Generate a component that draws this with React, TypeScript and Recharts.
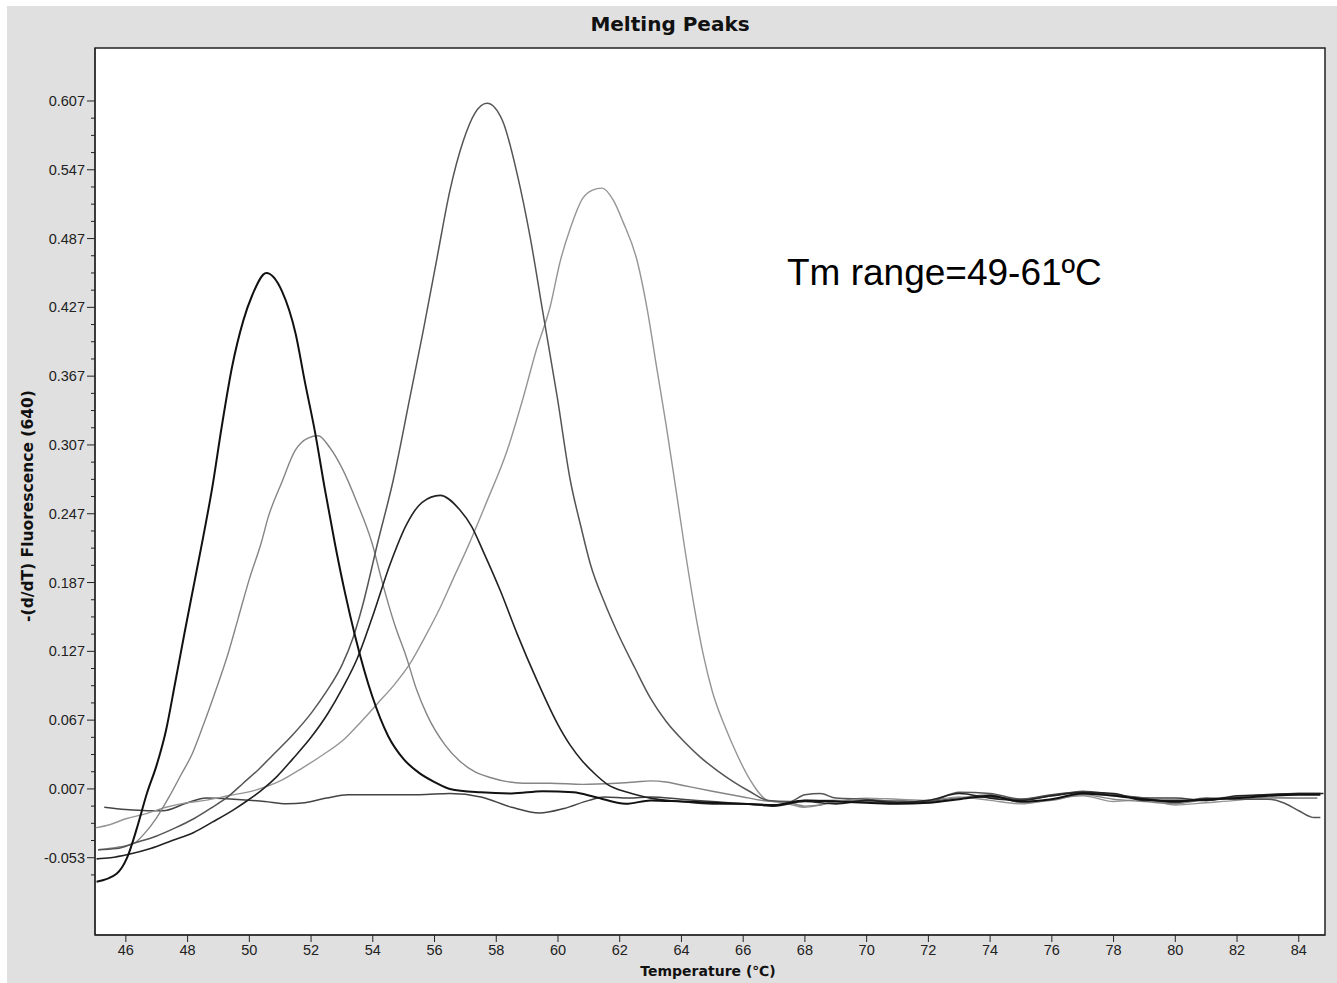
import { LineChart, Line, XAxis, YAxis, ReferenceArea } from 'recharts'

// temperature (°C), -(d/dT) fluorescence
const PEAK_50: [number, number][] = [
  [45.05, -0.074], [45.7, -0.067], [46.04, -0.053], [46.36, -0.027], [46.68, 0.003], [47.0, 0.028],
  [47.3, 0.058], [47.6, 0.1], [47.9, 0.143], [48.24, 0.19], [48.5, 0.226], [48.8, 0.27],
  [49.1, 0.322], [49.44, 0.375], [49.8, 0.415], [50.1, 0.438], [50.55, 0.457], [51.06, 0.441],
  [51.5, 0.404], [51.8, 0.362], [52.13, 0.318], [52.45, 0.268], [52.78, 0.22], [53.1, 0.178],
  [53.43, 0.14], [53.98, 0.088], [54.5, 0.053], [55.0, 0.033], [55.5, 0.021], [56.0, 0.013],
  [56.5, 0.007], [57.5, 0.004], [58.5, 0.003], [59.5, 0.005], [60.5, 0.004], [61.2, 0.0],
  [62.2, -0.006], [63, -0.003], [64, -0.004], [65, -0.005], [66, -0.006], [67, -0.007],
  [68, -0.003], [69, -0.004], [70, -0.005], [71, -0.006], [72, -0.005], [73, -0.002],
  [74, 0.001], [75, -0.004], [76, -0.002], [77, 0.003], [78, 0.001], [79, -0.002],
  [80, -0.004], [81, -0.002], [82, -0.001], [83, 0.001], [84, 0.002], [84.7, 0.002],
]

const PEAK_52: [number, number][] = [
  [45.1, -0.046], [45.7, -0.044], [46.23, -0.041], [46.6, -0.032], [47.0, -0.018], [47.4, 0.0],
  [47.8, 0.02], [48.14, 0.037], [48.5, 0.062], [48.9, 0.092], [49.3, 0.124], [49.64, 0.156],
  [50.0, 0.19], [50.4, 0.223], [50.6, 0.243], [51.06, 0.275], [51.48, 0.302], [51.9, 0.313],
  [52.23, 0.315], [52.6, 0.305], [53.0, 0.287], [53.5, 0.256], [53.98, 0.221], [54.3, 0.188],
  [54.7, 0.151], [55.1, 0.121], [55.4, 0.095], [55.75, 0.072], [56.35, 0.045], [56.83, 0.031],
  [57.3, 0.022], [57.8, 0.017], [58.87, 0.012], [59.75, 0.012], [60.8, 0.011], [61.9, 0.012],
  [62.5, 0.013], [63.0, 0.014], [63.5, 0.013], [64.06, 0.01], [65, 0.005], [66, 0.0],
  [66.6, -0.003], [67.5, -0.005], [68, -0.008], [68.5, -0.007], [69, -0.004], [70, -0.004],
  [71, -0.003], [72, -0.005], [73, -0.001], [74, 0.002], [75, -0.005], [76, -0.003],
  [77, 0.002], [78, -0.002], [79, -0.004], [80, -0.006], [81, -0.002], [82, 0.0],
  [83, -0.001], [84, -0.001], [84.6, -0.001],
]

const PEAK_56: [number, number][] = [
  [45.05, -0.054], [45.5, -0.053], [46.1, -0.05], [46.8, -0.045], [47.5, -0.038], [48.2, -0.031],
  [48.8, -0.022], [49.5, -0.011], [50.0, -0.002], [50.4, 0.006], [50.9, 0.018], [51.4, 0.033],
  [52.0, 0.052], [52.55, 0.073], [53.0, 0.094], [53.5, 0.121], [54.0, 0.158], [54.56, 0.203],
  [55.1, 0.238], [55.6, 0.257], [56.18, 0.263], [56.83, 0.25], [57.2, 0.236], [57.58, 0.214],
  [58.13, 0.18], [58.68, 0.142], [59.33, 0.101], [59.98, 0.064], [60.4, 0.045], [60.8, 0.031],
  [61.2, 0.02], [61.6, 0.011], [62.25, 0.004], [63, -0.001], [64, -0.004], [65, -0.006],
  [66, -0.006], [67, -0.008], [68, -0.004], [69, -0.006], [70, -0.003], [71, -0.005],
  [72, -0.003], [73, 0.003], [74, -0.001], [75, -0.003], [76, 0.001], [77, 0.004],
  [78, 0.003], [79, -0.003], [80, -0.003], [81, -0.003], [82, 0.001], [83, 0.002],
  [84, 0.003], [84.8, 0.003],
]

const PEAK_58: [number, number][] = [
  [45.1, -0.046], [45.7, -0.045], [46.3, -0.04], [47.0, -0.034], [47.6, -0.027], [48.2, -0.019],
  [48.8, -0.009], [49.3, 0.0], [49.8, 0.012], [50.3, 0.024], [50.74, 0.036], [51.4, 0.054],
  [52.03, 0.074], [52.5, 0.092], [53.0, 0.115], [53.35, 0.138], [53.65, 0.165], [54.17, 0.223],
  [54.66, 0.276], [55.2, 0.348], [55.63, 0.406], [56.08, 0.47], [56.5, 0.529], [56.93, 0.572],
  [57.3, 0.596], [57.7, 0.605], [58.2, 0.59], [58.68, 0.543], [59.1, 0.488], [59.52, 0.421],
  [59.98, 0.348], [60.4, 0.276], [60.75, 0.235], [61.05, 0.203], [61.5, 0.17], [61.9, 0.145],
  [62.5, 0.112], [63, 0.086], [63.5, 0.066], [64.06, 0.049], [64.6, 0.035], [65.16, 0.023],
  [65.7, 0.013], [66.2, 0.005], [66.8, -0.003], [67.5, -0.004], [68, 0.002], [68.5, 0.003],
  [69, -0.001], [70, -0.002], [71, -0.004], [72, -0.004], [73, 0.004], [74, 0.003],
  [75, -0.002], [76, 0.001], [77, 0.005], [78, 0.002], [79, -0.001], [80, -0.005],
  [81, -0.001], [82, -0.002], [83, -0.002], [83.5, -0.005], [84, -0.012], [84.5, -0.018],
  [84.7, -0.018],
]

const PEAK_61: [number, number][] = [
  [45.0, -0.027], [45.5, -0.024], [46.0, -0.019], [46.6, -0.015], [47.3, -0.009], [48.0, -0.005],
  [48.57, -0.003], [49.3, 0.001], [50.2, 0.006], [51.0, 0.014], [51.7, 0.025], [52.4, 0.037],
  [53.1, 0.051], [53.6, 0.065], [54.17, 0.082], [54.7, 0.098], [55.2, 0.116], [55.7, 0.14],
  [56.18, 0.165], [56.6, 0.19], [57.06, 0.217], [57.7, 0.258], [58.35, 0.302], [58.87, 0.348],
  [59.3, 0.39], [59.75, 0.428], [60.07, 0.467], [60.4, 0.496], [60.8, 0.522], [61.1, 0.529],
  [61.43, 0.531], [61.8, 0.52], [62.1, 0.502], [62.57, 0.467], [62.9, 0.424], [63.2, 0.374],
  [63.5, 0.325], [63.8, 0.272], [64.1, 0.218], [64.4, 0.168], [64.7, 0.125], [65.0, 0.092],
  [65.4, 0.062], [65.8, 0.037], [66.2, 0.016], [66.8, -0.003], [67.3, -0.005], [68, -0.009],
  [68.5, -0.007], [69, -0.004], [70, -0.001], [71, -0.002], [72, -0.003], [73, 0.0],
  [74, -0.003], [75, -0.006], [76, -0.002], [77, 0.001], [78, -0.004], [79, -0.002],
  [80, -0.007], [81, -0.005], [82, -0.003], [83, 0.0], [84, -0.001], [84.6, -0.001],
]

const BASELINE: [number, number][] = [
  [45.3, -0.009], [46.0, -0.011], [46.7, -0.012], [47.2, -0.012], [48.0, -0.005], [48.6, -0.001],
  [49.5, -0.002], [50.5, -0.004], [51.2, -0.006], [51.8, -0.005], [52.5, -0.001], [53.2, 0.002],
  [54.5, 0.002], [55.5, 0.002], [56.5, 0.003], [57.5, 0.0], [58.5, -0.009], [59.4, -0.014],
  [60.2, -0.01], [61.0, -0.003], [61.5, 0.0], [62.3, -0.001], [63.0, 0.0], [64, -0.002],
  [65, -0.004], [66, -0.006], [67, -0.007], [68, -0.003], [69, -0.003], [70, -0.004],
  [71, -0.005], [72, -0.004], [73, -0.001], [74, 0.0], [75, -0.002], [76, 0.002],
  [77, 0.004], [78, 0.002], [79, -0.001], [80, -0.001], [81, -0.003], [82, 0.0],
  [83, 0.002], [84, 0.003], [84.7, 0.003],
]

const X_TICKS = [46, 48, 50, 52, 54, 56, 58, 60, 62, 64, 66, 68, 70, 72, 74, 76, 78, 80, 82, 84]
const Y_MAJOR = [-0.053, 0.007, 0.067, 0.127, 0.187, 0.247, 0.307, 0.367, 0.427, 0.487, 0.547, 0.607]
const Y_MINOR = [
  -0.068, -0.038, -0.023, -0.008, 0.022, 0.037, 0.052, 0.082, 0.097, 0.112, 0.142, 0.157,
  0.172, 0.202, 0.217, 0.232, 0.262, 0.277, 0.292, 0.322, 0.337, 0.352, 0.382, 0.397,
  0.412, 0.442, 0.457, 0.472, 0.502, 0.517, 0.532, 0.562, 0.577, 0.592,
]

const X_DOMAIN: [number, number] = [45, 84.85]
const Y_DOMAIN: [number, number] = [-0.1204, 0.6532]

const SERIES = [
  { name: 'baseline', points: BASELINE, color: '#444', width: 1.5 },
  { name: 'peak61', points: PEAK_61, color: '#959595', width: 1.4 },
  { name: 'peak52', points: PEAK_52, color: '#858585', width: 1.4 },
  { name: 'peak58', points: PEAK_58, color: '#555', width: 1.5 },
  { name: 'peak56', points: PEAK_56, color: '#222', width: 1.6 },
  { name: 'peak50', points: PEAK_50, color: '#111', width: 2 },
]

const tickFont = '"Liberation Sans", Arial, sans-serif'
const boldFont = '"DejaVu Sans", Verdana, sans-serif'

function YTick({ x, y, payload }: { x?: number; y?: number; payload?: { value: number } }) {
  if (x == null || y == null || !payload) return null
  const major = Y_MAJOR.some((m) => Math.abs(m - payload.value) < 1e-6)
  return (
    <g>
      <line x1={x - (major ? 8 : 4)} x2={x} y1={y} y2={y} stroke="#222" strokeWidth={1} />
      {major && (
        <text x={x - 10} y={y} dy="0.35em" textAnchor="end" fill="#222" fontSize={14.5} fontFamily={tickFont}>
          {payload.value.toFixed(3)}
        </text>
      )}
    </g>
  )
}

export default function App() {
  const W = 1330
  const H = 977
  return (
    <div style={{ position: 'absolute', left: 7, top: 6, width: W, height: H, background: '#e0e0e0' }}>
      <LineChart width={W} height={H} margin={{ top: 42, right: 12, bottom: 18, left: 28 }}>
        <XAxis
          type="number"
          dataKey="t"
          domain={X_DOMAIN}
          ticks={X_TICKS}
          interval={0}
          allowDataOverflow
          height={30}
          tickSize={7}
          tickMargin={3}
          stroke="#222"
          tick={{ fill: '#222', fontSize: 14.5, fontFamily: tickFont }}
        />
        <YAxis
          type="number"
          domain={Y_DOMAIN}
          ticks={[...Y_MAJOR, ...Y_MINOR].sort((a, b) => a - b)}
          interval={0}
          allowDataOverflow
          width={60}
          tickSize={0}
          tickMargin={0}
          tickLine={false}
          stroke="#222"
          tick={(p: any) => <YTick x={p.x} y={p.y} payload={p.payload} />}
        />
        <ReferenceArea
          x1={X_DOMAIN[0]}
          x2={X_DOMAIN[1]}
          y1={Y_DOMAIN[0]}
          y2={Y_DOMAIN[1]}
          fill="#ffffff"
          fillOpacity={1}
          stroke="#222"
          strokeWidth={1.5}
        />
        {SERIES.map((s) => (
          <Line
            key={s.name}
            data={s.points.map(([t, v]) => ({ t, v }))}
            dataKey="v"
            type="monotone"
            stroke={s.color}
            strokeWidth={s.width}
            dot={false}
            activeDot={false}
            isAnimationActive={false}
          />
        ))}
      </LineChart>
      <svg width={W} height={H} style={{ position: 'absolute', left: 0, top: 0, pointerEvents: 'none' }}>
        <text x={663} y={25} textAnchor="middle" fontFamily={boldFont} fontWeight="bold" fontSize={20} fill="#111">
          Melting Peaks
        </text>
        <text x={701} y={970} textAnchor="middle" fontFamily={boldFont} fontWeight="bold" fontSize={14} fill="#111">
          Temperature (℃)
        </text>
        <text
          x={26}
          y={500}
          textAnchor="middle"
          transform="rotate(-90, 26, 500)"
          fontFamily={boldFont}
          fontWeight="bold"
          fontSize={15.5}
          fill="#111"
        >
          -(d/dT) Fluorescence (640)
        </text>
        <text x={780} y={279} fontFamily={tickFont} fontSize={37} fill="#000">
          Tm range=49-61ºC
        </text>
      </svg>
    </div>
  )
}
